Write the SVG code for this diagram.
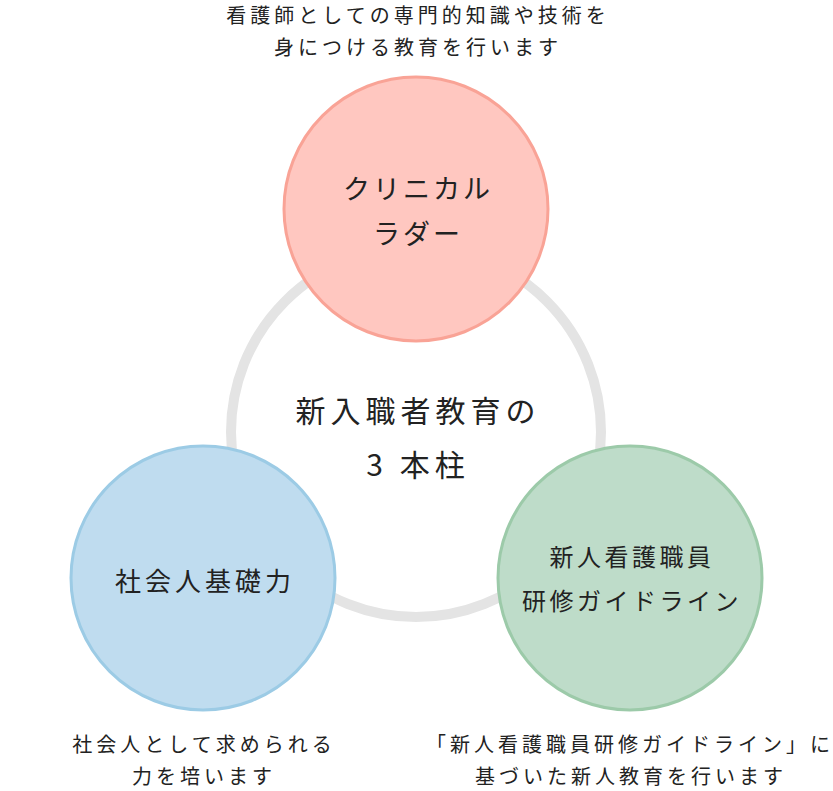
<svg xmlns="http://www.w3.org/2000/svg" width="833" height="791" viewBox="0 0 833 791">
<style>
text{font-family:"Noto Sans CJK JP","Noto Sans",sans-serif;fill:#222;text-anchor:middle}
.cap{font-size:20px;letter-spacing:4px}
.c{stroke-width:3}
</style>
<rect width="833" height="791" fill="#fff"/>
<g id="connectors"><circle cx="416" cy="432" r="185" fill="none" stroke="#e4e4e4" stroke-width="10"/></g>
<g id="center"><text x="418" y="422" font-size="30" letter-spacing="5">新入職者教育の</text><text x="418" y="476" font-size="30" letter-spacing="5">3 本柱</text></g>
<g id="top">
<text class="cap" x="418" y="23">看護師としての専門的知識や技術を</text>
<text class="cap" x="418" y="55">身につける教育を行います</text>
<circle class="c" cx="416" cy="209" r="132" fill="#ffc7c0" stroke="#f9a396"/>
<text x="418" y="199" font-size="27" letter-spacing="3">クリニカル</text><text x="418" y="244" font-size="27" letter-spacing="3">ラダー</text></g>
<g id="left">
<circle class="c" cx="203" cy="578" r="132" fill="#bfdcef" stroke="#9ccbe5"/>
<text x="205" y="591" font-size="26" letter-spacing="4">社会人基礎力</text>
<text class="cap" x="204" y="752">社会人として求められる</text>
<text class="cap" x="204" y="784">力を培います</text></g>
<g id="right">
<circle class="c" cx="630" cy="578" r="132" fill="#bedcc9" stroke="#9ccaa9"/>
<text x="632" y="566" font-size="24" letter-spacing="3.5">新人看護職員</text><text x="632" y="610" font-size="24" letter-spacing="3.5">研修ガイドライン</text>
<text class="cap" x="630" y="752" letter-spacing="3">「新人看護職員研修ガイドライン」に</text>
<text class="cap" x="631" y="784">基づいた新人教育を行います</text></g>
</svg>
